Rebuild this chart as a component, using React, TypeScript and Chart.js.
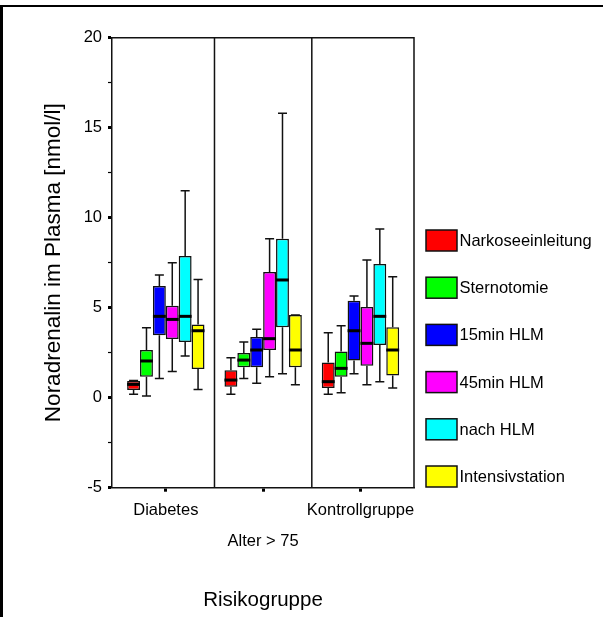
import React, { useEffect, useRef } from 'react';
import { Chart, registerables } from 'chart.js';

Chart.register(...registerables);

const FONT = 'Arial, "Liberation Sans", Helvetica, sans-serif';

const categories = ['Diabetes', 'Alter > 75', 'Kontrollgruppe'];
const seriesNames = ['Narkoseeinleitung', 'Sternotomie', '15min HLM', '45min HLM', 'nach HLM', 'Intensivstation'];
const seriesColors = ['#ff0000', '#00ff00', '#0000ff', '#ff00ff', '#00ffff', '#ffff00'];

// each entry: [min, q1, median, q3, max] per category
const narkoseeinleitung = [[0.19, 0.43, 0.74, 0.93, 0.95], [0.19, 0.61, 0.98, 1.52, 2.22], [0.19, 0.54, 0.89, 1.96, 3.61]];
const sternotomie = [[0.09, 1.17, 2.04, 2.65, 3.89], [1.06, 1.69, 2.09, 2.48, 3.09], [0.28, 1.17, 1.63, 2.56, 4.0]];
const hlm15 = [[1.06, 3.47, 4.52, 6.2, 6.82], [0.8, 1.69, 2.65, 3.37, 3.8], [1.33, 2.06, 3.72, 5.39, 5.65]];
const hlm45 = [[1.45, 3.26, 4.35, 5.11, 7.5], [1.17, 2.65, 3.28, 6.98, 8.83], [0.72, 1.78, 3.02, 5.04, 7.65]];
const nachHlm = [[2.32, 3.09, 4.52, 7.87, 11.5], [1.33, 3.91, 6.54, 8.83, 15.8], [0.89, 2.93, 4.52, 7.43, 9.37]];
const intensivstation = [[0.46, 1.59, 3.72, 4.07, 6.56], [0.72, 1.69, 2.65, 4.59, 4.59], [0.54, 1.24, 2.65, 3.91, 6.72]];

const seriesStats = [narkoseeinleitung, sternotomie, hlm15, hlm45, nachHlm, intensivstation];

const yMin = -5;
const yMax = 20;
const yStep = 2.5;

const boxPlugin = {
  id: 'boxExtras',
  beforeDraw(chart: any) {
    const ctx = chart.ctx;
    ctx.save();
    ctx.fillStyle = '#000';
    ctx.fillRect(0, 5, chart.width, 2);
    ctx.fillRect(0, 5, 3, chart.height - 5);
    ctx.restore();
  },
  beforeDatasetsDraw(chart: any) {
    const ctx = chart.ctx;
    const ys = chart.scales.y;
    ctx.save();
    ctx.strokeStyle = '#111';
    ctx.lineWidth = 1.5;
    chart.data.datasets.forEach((ds: any, di: number) => {
      const meta = chart.getDatasetMeta(di);
      meta.data.forEach((bar: any, j: number) => {
        const st = ds.stats[j];
        const { x, width } = bar.getProps(['x', 'width'], true);
        const pMin = ys.getPixelForValue(st[0]);
        const pQ1 = ys.getPixelForValue(st[1]);
        const pQ3 = ys.getPixelForValue(st[3]);
        const pMax = ys.getPixelForValue(st[4]);
        const cap = width * 0.35;
        ctx.beginPath();
        ctx.moveTo(x, pQ3);
        ctx.lineTo(x, pMax);
        ctx.moveTo(x - cap, pMax);
        ctx.lineTo(x + cap, pMax);
        ctx.moveTo(x, pQ1);
        ctx.lineTo(x, pMin);
        ctx.moveTo(x - cap, pMin);
        ctx.lineTo(x + cap, pMin);
        ctx.stroke();
      });
    });
    ctx.restore();
  },
  afterDatasetsDraw(chart: any) {
    const ctx = chart.ctx;
    const ys = chart.scales.y;
    const xs = chart.scales.x;
    const area = chart.chartArea;
    ctx.save();
    ctx.strokeStyle = '#000';
    ctx.lineWidth = 3;
    chart.data.datasets.forEach((ds: any, di: number) => {
      const meta = chart.getDatasetMeta(di);
      meta.data.forEach((bar: any, j: number) => {
        const st = ds.stats[j];
        const { x, width } = bar.getProps(['x', 'width'], true);
        const pMed = ys.getPixelForValue(st[2]);
        ctx.beginPath();
        ctx.moveTo(x - width / 2, pMed);
        ctx.lineTo(x + width / 2, pMed);
        ctx.stroke();
      });
    });
    // frame top/right and group dividers
    ctx.lineWidth = 1.5;
    ctx.strokeStyle = '#111';
    ctx.beginPath();
    ctx.moveTo(area.left, area.top);
    ctx.lineTo(area.right, area.top);
    ctx.lineTo(area.right, area.bottom);
    for (let i = 0; i < categories.length - 1; i++) {
      const px = xs.getPixelForValue(i + 0.5);
      ctx.moveTo(px, area.top);
      ctx.lineTo(px, area.bottom);
    }
    ctx.stroke();
    ctx.restore();
  },
  afterDraw(chart: any) {
    const ctx = chart.ctx;
    ctx.save();
    const boxX = 426;
    const boxW = 31;
    const boxH = 21;
    const firstCenter = 240.5;
    const spacing = 47.2;
    ctx.font = `16.5px ${FONT}`;
    ctx.textBaseline = 'middle';
    ctx.textAlign = 'left';
    chart.data.datasets.forEach((ds: any, i: number) => {
      const cy = firstCenter + i * spacing;
      ctx.fillStyle = ds.backgroundColor;
      ctx.fillRect(boxX, cy - boxH / 2, boxW, boxH);
      ctx.strokeStyle = '#111';
      ctx.lineWidth = 1.5;
      ctx.strokeRect(boxX, cy - boxH / 2, boxW, boxH);
      ctx.fillStyle = '#000';
      ctx.fillText(ds.label, boxX + boxW + 2.5, cy + 1);
    });
    ctx.restore();
  },
};

export default function App() {
  const ref = useRef<HTMLCanvasElement>(null);
  useEffect(() => {
    Chart.defaults.font.family = FONT;
    const datasets = seriesNames.map((name, si) => ({
      label: name,
      backgroundColor: seriesColors[si],
      borderColor: '#111',
      borderWidth: 1.5,
      borderSkipped: false,
      stats: seriesStats[si],
      data: categories.map((_, ci) => ({ x: ci, y: [seriesStats[si][ci][1], seriesStats[si][ci][3]] })),
    }));
    const chart = new Chart(ref.current as HTMLCanvasElement, {
      type: 'bar',
      data: { datasets } as any,
      plugins: [boxPlugin],
      options: {
        responsive: false,
        animation: false,
        devicePixelRatio: 1,
        layout: { padding: { top: 37.7, right: 189, left: 0, bottom: 0 } },
        categoryPercentage: 0.795,
        barPercentage: 1,
        plugins: { legend: { display: false }, tooltip: { enabled: false } },
        scales: {
          x: {
            type: 'linear',
            offset: false,
            min: -0.553,
            max: 2.55,
            afterBuildTicks: (s: any) => {
              s.ticks = categories.map((_, i) => ({ value: i }));
            },
            afterFit: (s: any) => {
              s.height = 129.3;
            },
            ticks: {
              autoSkip: false,
              maxRotation: 0,
              minRotation: 0,
              padding: 3,
              color: '#000',
              font: { size: 16.5, lineHeight: 1.88 },
              callback: (v: any) => {
                const i = Math.round(Number(v));
                return i === 1 ? ['', categories[i]] : categories[i];
              },
            },
            grid: { offset: false, drawOnChartArea: false, tickLength: 4, tickWidth: 3, tickColor: '#000' },
            border: { color: '#111', width: 1.5 },
            title: {
              display: true,
              text: 'Risikogruppe',
              color: '#000',
              font: { size: 20.5 },
              padding: { top: 0, bottom: 4.7 },
            },
          },
          y: {
            min: yMin,
            max: yMax,
            afterFit: (s: any) => {
              s.width = 112;
            },
            ticks: {
              stepSize: yStep,
              autoSkip: false,
              color: '#000',
              font: { size: 16.5 },
              padding: 6,
              callback: (v: any) => (Number(v) % 5 === 0 ? String(v) : ''),
            },
            grid: {
              drawOnChartArea: false,
              tickLength: 4,
              tickColor: '#000',
              tickWidth: (c: any) => (c.tick && c.tick.value % 5 === 0 ? 3 : 1.2),
            },
            border: { color: '#111', width: 1.5 },
            title: {
              display: true,
              text: 'Noradrenalin im Plasma [nmol/l]',
              color: '#000',
              font: { size: 22.5 },
              padding: { top: 40.5, bottom: 0 },
            },
          },
        },
      } as any,
    });
    return () => chart.destroy();
  }, []);
  return (
    <div style={{ position: 'absolute', left: 0, top: 0, width: 603, height: 617, background: '#fff' }}>
      <canvas ref={ref} width={603} height={617} style={{ display: 'block', width: 603, height: 617 }} />
    </div>
  );
}
